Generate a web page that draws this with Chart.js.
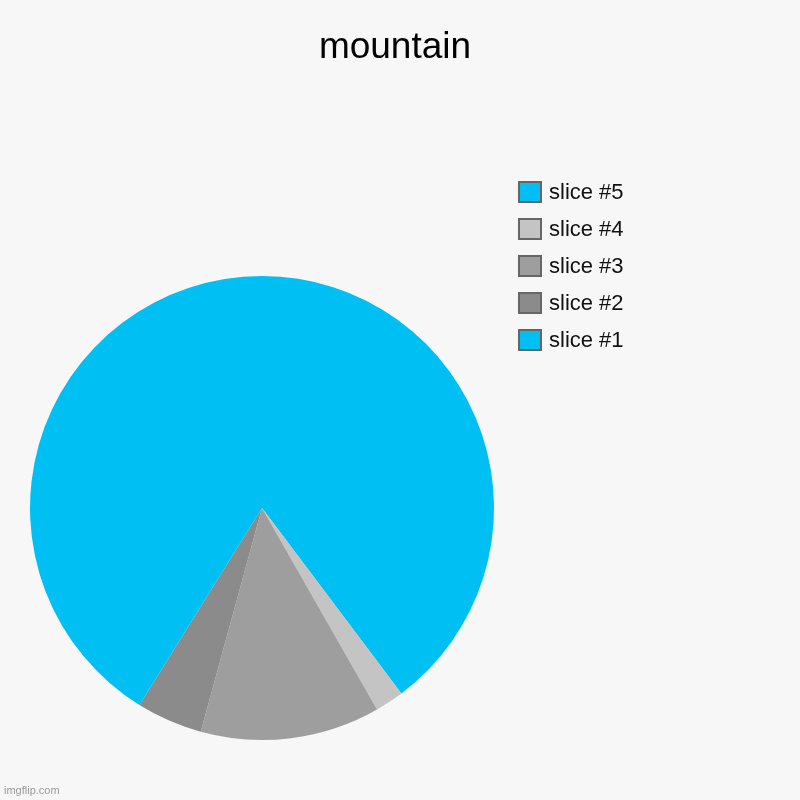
<!DOCTYPE html>
<html>
<head>
<meta charset="utf-8">
<script src="https://cdn.jsdelivr.net/npm/chart.js@4"></script>
<style>
    body { margin: 0; background: #f7f7f7; }
    #wrap { position: relative; width: 800px; height: 800px; background: #f7f7f7; }
    #titulo { position: absolute; left: 0; width: 790px; top: 24px; text-align: center; font: 37px "Liberation Sans", Arial, sans-serif; color: #000; line-height: 44px; }
    #legend { position: absolute; left: 518px; top: 181px; font-family: "Liberation Sans", Arial, sans-serif; }
    .item { position: relative; height: 37px; }
    .box { position: absolute; left: 0; top: 0; width: 20px; height: 18px; border: 2px solid #666; }
    .txt { position: absolute; left: 31px; top: -1px; font-size: 22px; color: #111; line-height: 24px; white-space: nowrap; }
    #mark { position: absolute; left: 4px; top: 784px; font: 11px "Liberation Sans", Arial, sans-serif; color: #999; }
</style>
</head>
<body>
<div id="wrap">
    <canvas id="pie" width="800" height="800"></canvas>
    <div id="titulo"></div>
    <div id="legend"></div>
    <div id="mark">imgflip.com</div>
</div>
<script>
const titulo = 'mountain';
const fatias = ['slice #1', 'slice #2', 'slice #3', 'slice #4', 'slice #5'];
const valores = [41.1, 4.6, 12.5, 2.0, 39.7];
const cores = ['#00bff3', '#8b8b8b', '#9e9e9e', '#c4c4c4', '#00bff3'];

// imgflip desenha no sentido anti-horario: inverte a ordem para o Chart.js
const rotulos = fatias.slice().reverse();
const dados = valores.slice().reverse();
const coresInv = cores.slice().reverse();

document.getElementById('titulo').textContent = titulo;

const ctx = document.getElementById('pie');
const grafico = new Chart(ctx, {
    type: 'pie',
    data: {
        labels: rotulos,
        datasets: [{
            data: dados,
            backgroundColor: coresInv,
            borderWidth: 0
        }]
    },
    options: {
        responsive: false,
        animation: false,
        layout: { padding: { left: 30, right: 306, bottom: 60, top: 276 } },
        plugins: {
            legend: { display: false },
            tooltip: { enabled: false },
            title: { display: false }
        }
    }
});

// legenda em HTML, na ordem do grafico
const legenda = document.getElementById('legend');
rotulos.forEach((r, i) => {
    const div = document.createElement('div');
    div.className = 'item';
    div.innerHTML = `<span class="box" style="background:${coresInv[i]}"></span><span class="txt">${r}</span>`;
    legenda.appendChild(div);
});
</script>
</body>
</html>
